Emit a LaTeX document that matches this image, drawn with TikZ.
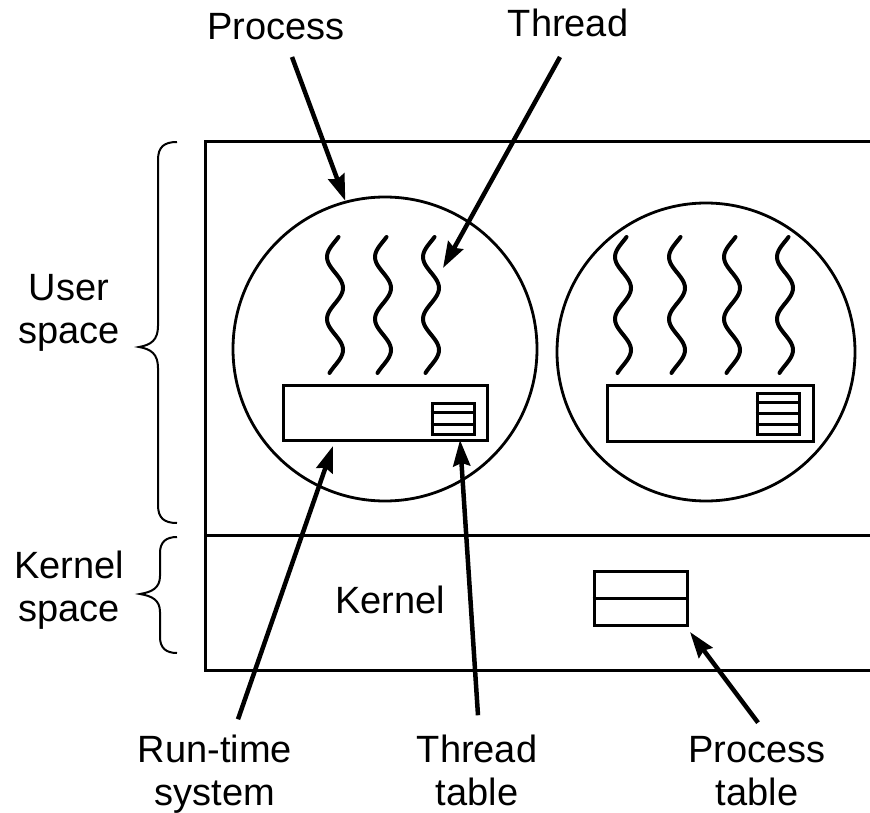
\documentclass[tikz,border=0pt]{standalone}
\usepackage{fontspec}
\setmainfont{Liberation Sans}
\usetikzlibrary{arrows.meta,calc}
\begin{document}
\begin{tikzpicture}[x=1pt,y=-1pt,
  lbl/.style={font=\fontsize{38}{43}\selectfont, inner sep=0pt, align=center},
  arr/.style={line width=4.5pt, -{Stealth[length=26pt,width=17pt,inset=3pt]}},
  wall/.style={line width=3pt},
  boxn/.style={draw, line width=3pt, inner sep=0pt},
  procn/.style={draw, circle, line width=2.8pt, inner sep=0pt},
  wave/.style={line width=4pt, line cap=round},
  bracep/.style={line width=2pt}]
\useasboundingbox (0,0) rectangle (870,813);

% outer frame
\draw[wall] (870,142) -- (205,142) -- (205,670) -- (870,670);
\draw[wall] (205,535) -- (870,535);

% processes
\node[procn, minimum size=304pt] (proc1) at (385,349) {};
\node[procn, minimum size=298pt] (proc2) at (706,352) {};

% threads
\foreach \c in {335,383,431}
  \draw[wave] plot[variable=\t, domain=237:373, samples=60, smooth]
    ({\c - 8*cos(5.806*(\t-257))}, \t);
\foreach \c in {623,677,732,785}
  \draw[wave] plot[variable=\t, domain=237:373, samples=60, smooth]
    ({\c - 8*cos(5.806*(\t-257))}, \t);

% run-time systems
\node[boxn, minimum width=204pt, minimum height=55pt] (rts1) at (385,412.5) {};
\node[boxn, minimum width=206pt, minimum height=56pt] (rts2) at (710,413) {};

% thread tables
\node[boxn, minimum width=42pt, minimum height=31pt] (tt1) at (453,418.5) {};
\foreach \f in {1,2}
  \draw[line width=3pt] ($(tt1.north west)!\f/3!(tt1.south west)$) -- ($(tt1.north east)!\f/3!(tt1.south east)$);
\node[boxn, minimum width=42pt, minimum height=41pt] (tt2) at (778,413.5) {};
\foreach \f in {1,2,3}
  \draw[line width=3pt] ($(tt2.north west)!\f/4!(tt2.south west)$) -- ($(tt2.north east)!\f/4!(tt2.south east)$);

% process table
\node[boxn, minimum width=93pt, minimum height=54pt] (ptab) at (640.5,598) {};
\draw[line width=3pt] (ptab.west) -- (ptab.east);

% braces
\draw[bracep] (177,142) .. controls (164,142) and (158,147) .. (158,160) -- (158,326)
  .. controls (158,340) and (151,345) .. (139,347)
  .. controls (151,349) and (158,354) .. (158,368) -- (158,505)
  .. controls (158,518) and (164,523) .. (177,523);
\draw[bracep] (177,537) .. controls (166,537) and (160,542) .. (160,553) -- (160,576)
  .. controls (160,588) and (152,592) .. (140,594)
  .. controls (152,596) and (160,600) .. (160,612) -- (160,637)
  .. controls (160,648) and (166,653) .. (177,653);

% labels (base anchor = baseline of the last line)
\node[lbl, anchor=base] (lproc) at (276,40) {Process};
\node[lbl, anchor=base] (lthr) at (568,37) {Thread};
\node[lbl, anchor=base] (luser) at (69,343) {User\\space};
\node[lbl, anchor=base] (lkers) at (69,621) {Kernel\\space};
\node[lbl, anchor=base] (lkern) at (390,613) {Kernel};
\node[lbl, anchor=base] (lrts) at (215,805) {Run-time\\system};
\node[lbl, anchor=base] (ltt) at (477,805) {Thread\\table};
\node[lbl, anchor=base] (lpt) at (757,805) {Process\\table};

% arrow targets
\coordinate (thrT) at (443,268);
\coordinate (rtsT) at (333,446);
\coordinate (ttT) at (460,440);
\coordinate (ptT) at (690,632);

% arrows
\draw[arr] ([shift={(16,17)}]lproc.base) -- (proc1.105);
\draw[arr] ([shift={(-8,20)}]lthr.base) -- (thrT);
\draw[arr] ([shift={(23,-15)}]lrts.north) -- (rtsT);
\draw[arr] ([shift={(1,-19)}]ltt.north) -- (ttT);
\draw[arr] ([shift={(1,-13)}]lpt.north) -- (ptT);
\end{tikzpicture}
\end{document}
